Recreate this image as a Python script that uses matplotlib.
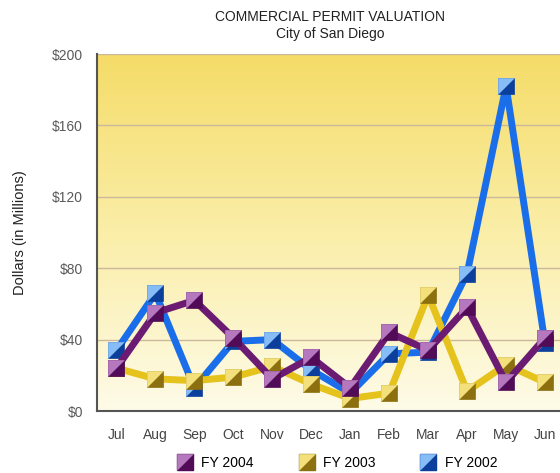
import numpy as np
import matplotlib.pyplot as plt
from matplotlib.colors import LinearSegmentedColormap
from matplotlib.legend_handler import HandlerTuple
from matplotlib.lines import Line2D

plt.rcParams["font.family"] = ["Liberation Sans", "DejaVu Sans"]

months = ["Jul", "Aug", "Sep", "Oct", "Nov", "Dec",
          "Jan", "Feb", "Mar", "Apr", "May", "Jun"]
fy2004 = [24, 55, 62, 41, 18, 30, 13, 44, 34, 58, 16, 41]
fy2003 = [24, 18, 17, 19, 25, 15, 7, 10, 65, 11, 26, 16]
fy2002 = [34, 66, 13, 39, 40, 23, 10, 32, 33, 77, 182, 38]
yticks = [0, 40, 80, 120, 160, 200]

series = [
    # label, values, line, light face, dark face, zorder
    ("FY 2002", fy2002, "#1b6eea", "#86bdf6", "#0c3f9c", 3),
    ("FY 2003", fy2003, "#e6c21c", "#f3e07a", "#8c7010", 4),
    ("FY 2004", fy2004, "#6c1b72", "#b577bd", "#520c57", 5),
]

sq = [(-1, -1), (1, -1), (1, 1), (-1, 1), (-1, -1)]
tri = [(-1, -1), (-1, 1), (1, 1), (-1, -1)]

fig = plt.figure(figsize=(5.6, 4.73), dpi=100)
ax = fig.add_axes([97 / 560, 1 - 411 / 473, 467.5 / 560, 357 / 473])

x = np.arange(len(months))
ax.set_xlim(-0.5, 11.5)
ax.set_ylim(0, 200)

# background gradient
cmap = LinearSegmentedColormap.from_list("bg", ["#fefbe8", "#faeea8", "#f5dc68"])
grad = np.linspace(0, 1, 256).reshape(-1, 1)
ax.imshow(grad, aspect="auto", cmap=cmap, origin="lower",
          extent=[0, 1, 0, 1], transform=ax.transAxes, zorder=0)

for t in yticks[1:]:
    ax.axhline(t, color="#cbb89c", lw=1, zorder=1)

handles = {}
for label, vals, lc, light, dark, z in series:
    ax.plot(x, vals, color=lc, lw=5, zorder=z, solid_joinstyle="bevel")
    ax.plot(x, vals, ls="none", marker=sq, ms=12, mfc=dark, mec=dark,
            mew=0.5, zorder=z + 0.1)
    ax.plot(x, vals, ls="none", marker=tri, ms=12, mfc=light, mec=light,
            mew=0, zorder=z + 0.2)
    h1 = Line2D([], [], ls="none", marker=sq, ms=12, mfc=dark, mec=dark)
    h2 = Line2D([], [], ls="none", marker=tri, ms=12, mfc=light, mec=light, mew=0)
    handles[label] = (h1, h2)

ax.set_xticks(x)
ax.set_xticklabels(months)
ax.set_yticks(yticks)
ax.set_yticklabels(["$%d" % t for t in yticks])
ax.tick_params(length=0, labelsize=10, colors="#5a5a5a", pad=10)
ax.tick_params(axis="x", pad=12, colors="#444444")

for s in ["top", "right"]:
    ax.spines[s].set_visible(False)
ax.spines["left"].set_color("#555555")
ax.spines["bottom"].set_color("#555555")
ax.spines["left"].set_linewidth(1.5)
ax.spines["bottom"].set_linewidth(1.5)

ax.set_ylabel("Dollars (in Millions)", fontsize=10.5, color="#222222", labelpad=18)

fig.text(330 / 560, 1 - 17 / 473, "COMMERCIAL PERMIT VALUATION",
         ha="center", va="center", fontsize=10, color="#222222")
fig.text(330 / 560, 1 - 34 / 473, "City of San Diego",
         ha="center", va="center", fontsize=10, color="#222222")

order = ["FY 2004", "FY 2003", "FY 2002"]
fig.legend([handles[k] for k in order], order,
           handler_map={tuple: HandlerTuple(ndivide=1)},
           loc="center", bbox_to_anchor=(337 / 560, 1 - 463 / 473),
           ncol=3, frameon=False, fontsize=10, handlelength=1.2,
           columnspacing=3.2, handletextpad=0.6)

fig.savefig("out.png", dpi=100)
